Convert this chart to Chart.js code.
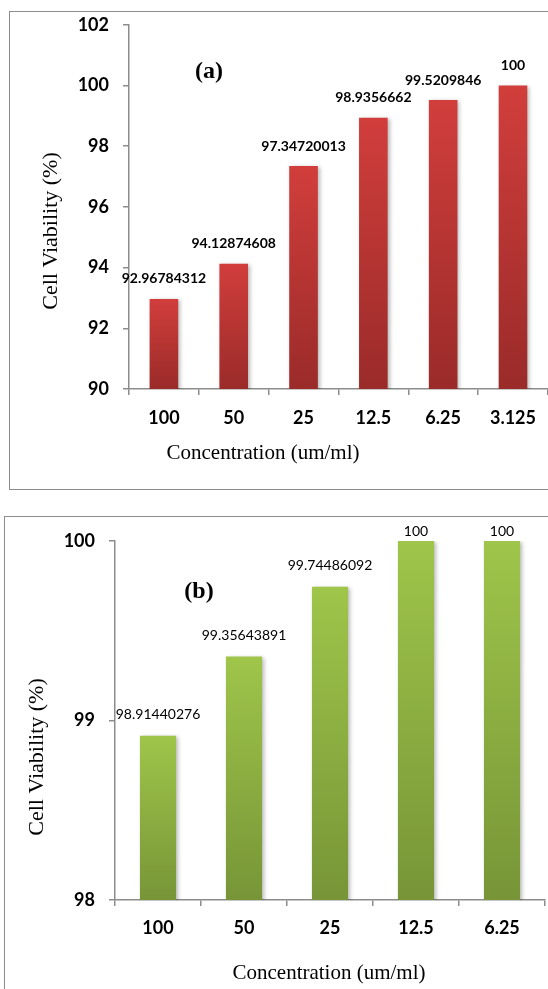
<!DOCTYPE html>
<html>
<head>
<meta charset="utf-8">
<script src="https://cdn.jsdelivr.net/npm/chart.js@4"></script>
<style>
  html, body { margin: 0; padding: 0; width: 548px; height: 989px; overflow: hidden; background: #fff; }
  .frame { position: absolute; border: 1.5px solid #8c8c8c; box-sizing: border-box; }
  canvas { position: absolute; left: 0; }
</style>
</head>
<body>
<div class="frame" style="left:9px; top:11px; width:600px; height:479px;"></div>
<div class="frame" style="left:4px; top:516px; width:600px; height:600px;"></div>
<canvas id="chartA" width="548" height="500" style="top:0; width:548px; height:500px;"></canvas>
<canvas id="chartB" width="548" height="489" style="top:500px; width:548px; height:489px;"></canvas>
<script>
// ---- Data ----
const categoriesA = ["100", "50", "25", "12.5", "6.25", "3.125"];
const valuesA = [92.96784312, 94.12874608, 97.34720013, 98.9356662, 99.5209846, 100];
const ticksA = [90, 92, 94, 96, 98, 100, 102];

const categoriesB = ["100", "50", "25", "12.5", "6.25"];
const valuesB = [98.91440276, 99.35643891, 99.74486092, 100, 100];
const ticksB = [98, 99, 100];

const xTitle = "Concentration (um/ml)";
const yTitle = "Cell Viability (%)";

// ---- Helpers ----
function barGradient(topColor, bottomColor) {
  return function (ctx) {
    const chart = ctx.chart;
    if (!chart.chartArea || ctx.raw === undefined) return topColor;
    const y = chart.scales.y;
    const top = y.getPixelForValue(ctx.raw);
    const bottom = y.getPixelForValue(y.min);
    const g = chart.ctx.createLinearGradient(0, top, 0, bottom);
    g.addColorStop(0, topColor);
    g.addColorStop(1, bottomColor);
    return g;
  };
}

const shadowPlugin = {
  id: 'barShadow',
  beforeDatasetDraw(chart) {
    const c = chart.ctx;
    c.save();
    c.shadowColor = 'rgba(0,0,0,0.28)';
    c.shadowBlur = 4;
    c.shadowOffsetX = 2;
    c.shadowOffsetY = 1;
  },
  afterDatasetDraw(chart) { chart.ctx.restore(); }
};

function labelPlugin(font, offset, minTopGap) {
  return {
    id: 'valueLabels',
    afterDatasetsDraw(chart) {
      const c = chart.ctx;
      const meta = chart.getDatasetMeta(0);
      const data = chart.data.datasets[0].data;
      c.save();
      c.font = font;
      c.fillStyle = '#000';
      c.textAlign = 'center';
      c.textBaseline = 'middle';
      meta.data.forEach((bar, i) => {
        let y = bar.y - offset;
        y = Math.max(y, chart.chartArea.top - minTopGap);
        c.fillText(String(data[i]), bar.x, y);
      });
      c.restore();
    }
  };
}

function textPlugin(items) {
  return {
    id: 'freeText',
    afterDraw(chart) {
      const c = chart.ctx;
      items.forEach(t => {
        c.save();
        c.font = t.font;
        c.fillStyle = '#000';
        c.textAlign = 'center';
        c.textBaseline = 'middle';
        c.translate(t.x, t.y);
        if (t.rot) c.rotate(t.rot);
        c.fillText(t.text, 0, 0);
        c.restore();
      });
    }
  };
}

function makeChart(id, cats, vals, tickVals, opts) {
  return new Chart(document.getElementById(id), {
    type: 'bar',
    data: {
      labels: cats,
      datasets: [{
        data: vals,
        backgroundColor: barGradient(opts.top, opts.bottom),
        borderWidth: 0,
        barPercentage: opts.barPct,
        categoryPercentage: 1.0
      }]
    },
    options: {
      responsive: false,
      maintainAspectRatio: false,
      animation: false,
      devicePixelRatio: 1,
      layout: { padding: { top: opts.padTop, right: opts.padRight, left: 0, bottom: 0 } },
      plugins: { legend: { display: false }, tooltip: { enabled: false }, title: { display: false } },
      scales: {
        x: {
          grid: { display: true, drawOnChartArea: false, drawTicks: true, tickLength: 6, color: '#8c8c8c', lineWidth: 1.5, offset: true },
          border: { display: true, color: '#8c8c8c', width: 1.5 },
          ticks: { color: '#000', font: { family: 'Lato', weight: 'bold', size: 18 }, padding: opts.xPad, maxRotation: 0, autoSkip: false },
          afterFit(s) { s.height = opts.xHeight; }
        },
        y: {
          min: tickVals[0],
          max: tickVals[tickVals.length - 1],
          afterBuildTicks(s) { s.ticks = tickVals.map(v => ({ value: v })); },
          grid: { display: true, drawOnChartArea: false, drawTicks: true, tickLength: 6, color: '#8c8c8c', lineWidth: 1.5 },
          border: { display: true, color: '#8c8c8c', width: 1.5 },
          ticks: { color: '#000', font: { family: 'Lato', weight: 'bold', size: 18 }, padding: 14 },
          afterFit(s) { s.width = opts.yWidth; }
        }
      }
    },
    plugins: [shadowPlugin, labelPlugin(opts.labelFont, opts.labelOffset, opts.minTopGap), textPlugin(opts.texts)]
  });
}

makeChart('chartA', categoriesA, valuesA, ticksA, {
  top: '#d13e3c', bottom: '#9a2b29', barPct: 0.41,
  padTop: 23, padRight: 0, xHeight: 111, yWidth: 129, xPad: 12,
  labelFont: 'bold 14px Lato', labelOffset: 20, minTopGap: 10,
  texts: [
    { text: xTitle, x: 263, y: 453, font: '21px "Liberation Serif"' },
    { text: yTitle, x: 51, y: 231, rot: -Math.PI / 2, font: '22px "Liberation Serif"' },
    { text: '(a)', x: 209, y: 72, font: 'bold 24px "Liberation Serif"' }
  ]
});

makeChart('chartB', categoriesB, valuesB, ticksB, {
  top: '#9fc54a', bottom: '#779537', barPct: 0.42,
  padTop: 41, padRight: 3, xHeight: 89, yWidth: 115, xPad: 11,
  labelFont: '14px Lato', labelOffset: 21, minTopGap: 10,
  texts: [
    { text: xTitle, x: 329, y: 473, font: '21px "Liberation Serif"' },
    { text: yTitle, x: 37, y: 257, rot: -Math.PI / 2, font: '22px "Liberation Serif"' },
    { text: '(b)', x: 199, y: 92, font: 'bold 24px "Liberation Serif"' }
  ]
});
</script>
</body>
</html>
